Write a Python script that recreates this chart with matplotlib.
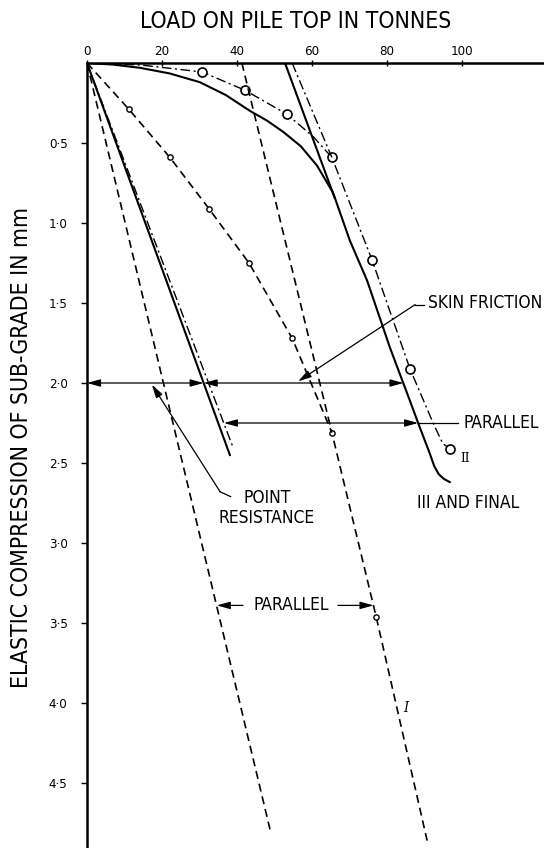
import matplotlib
matplotlib.use('Agg')
import matplotlib.pyplot as plt

# ---------------- data (load in tonnes, elastic compression in mm) ----------------
# Curve III (final loading cycle) - solid line
load_III = [0, 7.0, 14.1, 22.0, 30.1, 37.0, 43.5, 48.0, 52.3, 57.0, 61.3, 65.6, 70.1, 74.7, 80.8, 86.1, 88.3, 91.4, 92.6, 93.8, 95.2, 96.8]
comp_III = [0, 0.01, 0.03, 0.065, 0.12, 0.20, 0.30, 0.36, 0.43, 0.52, 0.64, 0.81, 1.11, 1.36, 1.78, 2.11, 2.25, 2.44, 2.52, 2.57, 2.60, 2.62]

# Curve II (second loading cycle) - dash-dot line with circles
load_II = [0, 14.1, 30.7, 42.1, 53.3, 60.3, 65.3, 76.0, 86.1, 92.3, 94.9, 96.8]
comp_II = [0, 0.012, 0.056, 0.17, 0.32, 0.46, 0.59, 1.23, 1.91, 2.25, 2.38, 2.41]
marks_II = [2, 3, 4, 6, 7, 8, 11]

# Curve I (first loading cycle) - dashed line with small circles
load_I = [0, 11.2, 22.1, 32.5, 43.2, 54.7, 65.3, 77.1, 90.7]
comp_I = [0, 0.29, 0.59, 0.91, 1.25, 1.72, 2.31, 3.46, 4.86]
marks_I = [1, 2, 3, 4, 5, 6, 7]

# straight-line portions extended back to zero compression
ext_I_load, ext_I_comp = [41.3, 65.3], [0, 2.31]
ext_II_load, ext_II_comp = [54.7, 65.3], [0, 0.59]
ext_III_load, ext_III_comp = [52.8, 66.0], [0, 0.84]

# point-resistance lines drawn from the origin, parallel to the straight portions
pr_I_load, pr_I_comp = [0, 48.8], [0, 4.79]
pr_II_load, pr_II_comp = [0, 38.9], [0, 2.40]
pr_III_load, pr_III_comp = [0, 38.1], [0, 2.45]

x_ticks = [0, 20, 40, 60, 80, 100]
x_tick_labels = ['0', '20', '40', '60', '80', '100']
y_ticks = [0.5, 1.0, 1.5, 2.0, 2.5, 3.0, 3.5, 4.0, 4.5]
y_tick_labels = ['0·5', '1·0', '1·5', '2·0', '2·5', '3·0', '3·5', '4·0', '4·5']

# ---------------- figure ----------------
plt.rcParams['font.family'] = ['DejaVu Sans']
plt.rcParams['font.stretch'] = 'condensed'
fig = plt.figure(figsize=(5.44, 8.48), dpi=100)
ax = fig.add_axes([87 / 544, 0, 1 - 87 / 544, 1 - 63 / 848])
ax.set_xlim(0, (544 - 87) / 3.75)
ax.set_ylim((848 - 63) / 160, 0)

ax.xaxis.tick_top()
ax.set_xticks(x_ticks)
ax.set_xticklabels(x_tick_labels)
ax.set_yticks(y_ticks)
ax.set_yticklabels(y_tick_labels)
for s in ['right', 'bottom']:
    ax.spines[s].set_visible(False)
for s in ['top', 'left']:
    ax.spines[s].set_linewidth(1.8)
ax.tick_params(axis='x', direction='inout', length=5, width=1, pad=1, labelsize=9.5)
ax.tick_params(axis='y', direction='out', length=4, width=1, pad=10, labelsize=9.5)

k = 'black'
dash = (0, (4.8, 3.0))
dashdot = (0, (7, 2.5, 1.5, 2.5))

# curves
ax.plot(load_III, comp_III, color=k, lw=1.5, solid_capstyle='round', solid_joinstyle='round')
ax.plot(load_II, comp_II, color=k, lw=1.0, linestyle=dashdot,
        marker='o', markevery=marks_II, ms=6.5, mfc='white', mec=k, mew=1.2)
ax.plot(load_I, comp_I, color=k, lw=1.2, linestyle=dash,
        marker='o', markevery=marks_I, ms=3.8, mfc='white', mec=k, mew=1.0)

ax.plot(ext_I_load, ext_I_comp, color=k, lw=1.2, linestyle=dash)
ax.plot(ext_II_load, ext_II_comp, color=k, lw=1.0, linestyle=dashdot)
ax.plot(ext_III_load, ext_III_comp, color=k, lw=1.5)

ax.plot(pr_I_load, pr_I_comp, color=k, lw=1.2, linestyle=dash)
ax.plot(pr_II_load, pr_II_comp, color=k, lw=1.0, linestyle=dashdot)
ax.plot(pr_III_load, pr_III_comp, color=k, lw=1.5)

# ---------------- annotations ----------------
ap2 = dict(arrowstyle='<|-|>,head_length=0.8,head_width=0.22', color=k, lw=0.9,
           shrinkA=0, shrinkB=0, mutation_scale=10)
ap1 = dict(arrowstyle='-|>,head_length=0.8,head_width=0.22', color=k, lw=0.9,
           shrinkA=0, shrinkB=0, mutation_scale=10)

# dimension arrows at 2.0 mm
ax.annotate('', xy=(0, 2.0), xytext=(31.1, 2.0), arrowprops=ap2)
ax.annotate('', xy=(31.1, 2.0), xytext=(84.4, 2.0), arrowprops=ap2)

# skin friction leader
ax.annotate('', xy=(56.3, 1.99), xytext=(87.5, 1.51), arrowprops=ap1)
ax.plot([87.5, 89.8], [1.51, 1.51], color=k, lw=0.9)
ax.text(90.9, 1.50, 'SKIN FRICTION', fontsize=12.5, ha='left', va='center', clip_on=False)

# point resistance leader
ax.annotate('', xy=(17.3, 2.01), xytext=(35.5, 2.68), arrowprops=ap1)
ax.plot([35.5, 38.3], [2.68, 2.71], color=k, lw=0.9)
ax.text(48.0, 2.78, 'POINT\nRESISTANCE', fontsize=12.5, ha='center', va='center',
        multialignment='center', linespacing=1.15)

# parallel (upper)
ax.annotate('', xy=(36.5, 2.25), xytext=(88.3, 2.25), arrowprops=ap2)
ax.plot([88.3, 98.9], [2.25, 2.25], color=k, lw=0.9)
ax.text(100.3, 2.25, 'PARALLEL', fontsize=12.5, ha='left', va='center', clip_on=False)

# parallel (lower)
ax.annotate('', xy=(34.6, 3.39), xytext=(41.6, 3.39), arrowprops=ap1)
ax.annotate('', xy=(76.4, 3.39), xytext=(66.9, 3.39), arrowprops=ap1)
ax.text(54.4, 3.39, 'PARALLEL', fontsize=12.5, ha='center', va='center')

# curve labels
ax.text(99.5, 2.47, 'II', fontsize=9.5, family='DejaVu Serif', ha='left', va='center')
ax.text(101.6, 2.75, 'III AND FINAL', fontsize=12.5, ha='center', va='center')
ax.text(85.1, 4.03, 'I', fontsize=10.5, family='DejaVu Serif', style='italic',
        ha='center', va='center')

# titles
fig.text(296 / 544, 1 - 21 / 848, 'LOAD ON PILE TOP IN TONNES', fontsize=16.5,
         ha='center', va='center')
fig.text(22 / 544, 1 - 447 / 848, 'ELASTIC COMPRESSION OF SUB-GRADE IN mm',
         fontsize=16.5, rotation=90, ha='center', va='center')

fig.savefig('out.png', dpi=100)
